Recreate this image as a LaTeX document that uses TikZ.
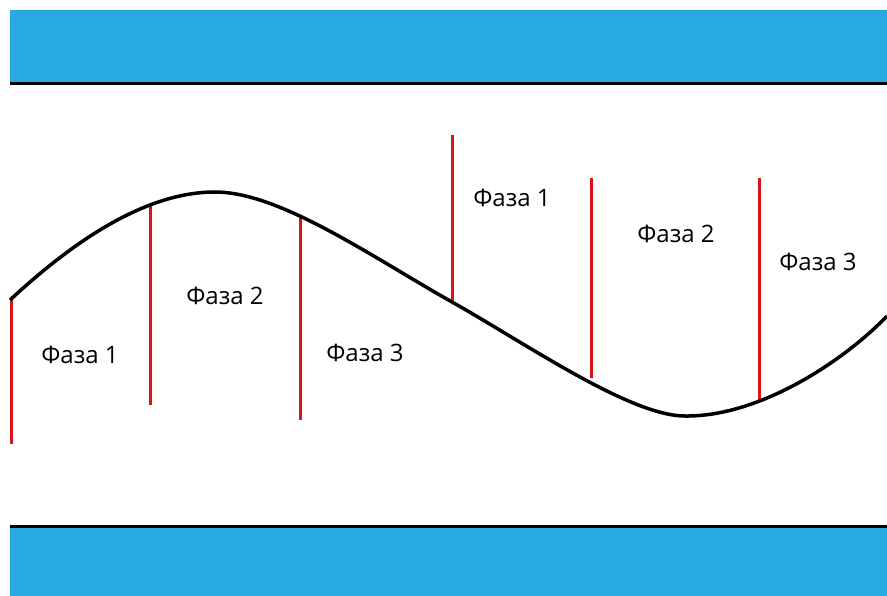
\documentclass[tikz,border=0pt]{standalone}
\usepackage{fontspec}
\setmainfont{Open Sans}

\begin{document}
\begin{tikzpicture}[x=1pt, y=-1pt]
    \definecolor{bandColour}{HTML}{29A9E1}
    \definecolor{phaseColour}{HTML}{D7141A}

    \def\picWidth{887}
    \def\picHeight{596}
    \useasboundingbox (0,0) rectangle (\picWidth,\picHeight);

    % Draw blue bands with their black borders
    \fill[bandColour] (10,10) rectangle (\picWidth,82);
    \fill[bandColour] (10,528) rectangle (\picWidth,\picHeight);
    \draw[line width=3pt] (10,84) -- (\picWidth,84);
    \draw[line width=3pt] (10,526) -- (\picWidth,526);

    % Draw phase borders
    \foreach \x/\ya/\yb in {11/300/444, 150/206/405, 300/215/420, 452/135/302, 591/178/378, 759/178/402}
        \draw[phaseColour, line width=3pt] (\x,\ya) -- (\x,\yb);

    % Draw the wave
    \coordinate (waveStart) at (10,300);
    \coordinate (wavePeak) at (215,192);
    \coordinate (waveMid) at (452,302);
    \coordinate (waveLow) at (685,416);
    \coordinate (waveEnd) at (887,316);
    \draw[line width=3.5pt]
        (waveStart) .. controls (80,235) and (150,192) .. (wavePeak)
        .. controls (280,192) and (372,257) .. (waveMid)
        .. controls (525,343) and (630,416) .. (waveLow)
        .. controls (760,417) and (845,360) .. (waveEnd);

    % Phase labels
    \tikzset{phaseLabel/.style={font=\fontsize{24}{29}\selectfont}}
    \node[phaseLabel] (phaseA) at (80,355) {Фаза 1};
    \node[phaseLabel] (phaseB) at (225,296) {Фаза 2};
    \node[phaseLabel] (phaseC) at (365,353) {Фаза 3};
    \node[phaseLabel] (phaseD) at (512,198) {Фаза 1};
    \node[phaseLabel] (phaseE) at (676,234) {Фаза 2};
    \node[phaseLabel] (phaseF) at (818,262) {Фаза 3};
\end{tikzpicture}
\end{document}
